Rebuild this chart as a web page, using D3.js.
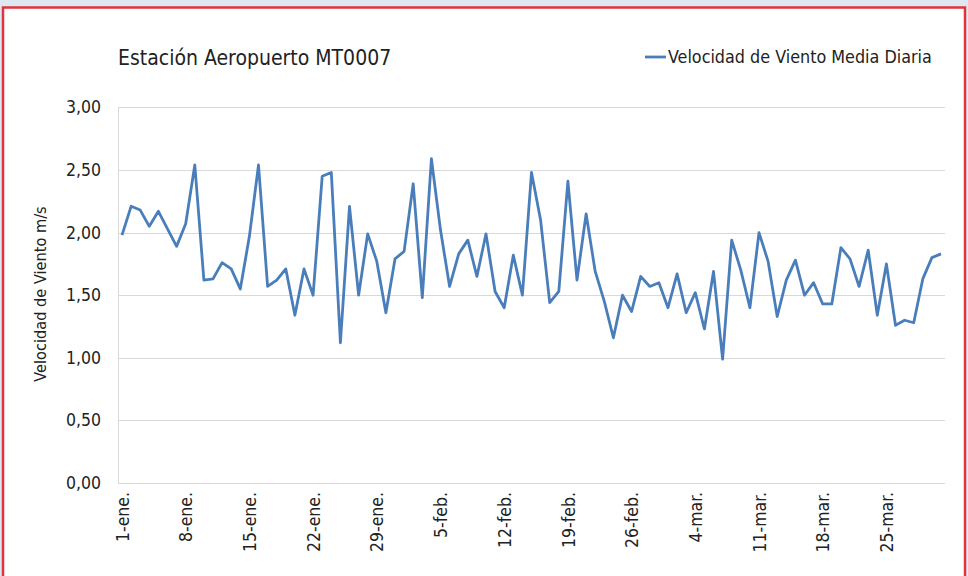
<!DOCTYPE html>
<meta charset="utf-8">
<style>
    body { margin: 0; background: #dfe7f1; }
    text { font-family: "Liberation Sans Narrow", "DejaVu Sans Condensed", "Open Sans", sans-serif; fill: #222; }
    .grid line { stroke: #d9d9d9; stroke-width: 1px; }
    .serie { fill: none; stroke: #4a7ebb; stroke-width: 2.8px; stroke-linejoin: round; }
</style>
<body>
<script src="https://d3js.org/d3.v7.min.js"></script>
<script>
    // dias desde el 1 de enero de 2012 (bisiesto) y velocidad media diaria m/s
    var startDate = new Date(2012, 0, 1);
    var velocidad = [
        1.98, 2.21, 2.18, 2.05, 2.17, 2.03, 1.89, 2.07, 2.54, 1.62,
        1.63, 1.76, 1.71, 1.55, 1.97, 2.54, 1.57, 1.62, 1.71, 1.34,
        1.71, 1.50, 2.45, 2.48, 1.12, 2.21, 1.50, 1.99, 1.77, 1.36,
        1.79, 1.85, 2.39, 1.48, 2.59, 2.02, 1.57, 1.83, 1.94, 1.65,
        1.99, 1.53, 1.40, 1.82, 1.50, 2.48, 2.10, 1.44, 1.53, 2.41,
        1.62, 2.15, 1.69, 1.45, 1.16, 1.50, 1.37, 1.65, 1.57, 1.60,
        1.40, 1.67, 1.36, 1.52, 1.23, 1.69, 0.99, 1.94, 1.70, 1.40,
        2.00, 1.77, 1.33, 1.62, 1.78, 1.50, 1.60, 1.43, 1.43, 1.88,
        1.79, 1.57, 1.86, 1.34, 1.75, 1.26, 1.30, 1.28, 1.63, 1.80,
        1.83
    ];
    var meses = ["ene.", "feb.", "mar."];
    var yTicks = [0, 0.5, 1, 1.5, 2, 2.5, 3];
    var tickStep = 7;
    var titulo = "Estación Aeropuerto MT0007";
    var nombreSerie = "Velocidad de Viento Media Diaria";
    var tituloEje = "Velocidad de Viento m/s";

    var data = velocidad.map(function(v, i) {
        return { date: d3.timeDay.offset(startDate, i), value: v };
    });

    var W = 968, H = 576;
    var svg = d3.select("body").append("svg").attr("width", W).attr("height", H);

    // marco
    svg.append("rect").attr("x", 3).attr("y", 7.5).attr("width", 962).attr("height", 580)
        .attr("fill", "#fff").attr("stroke", "#e0343d").attr("stroke-width", 2.5);

    var plot = { left: 118, right: 945, top: 107.4, bottom: 483 };

    var x = d3.scaleTime()
        .domain([startDate, d3.timeDay.offset(startDate, velocidad.length - 1)])
        .range([122, 941]);
    var y = d3.scaleLinear().domain([0, 3]).range([plot.bottom, plot.top]);

    // rejilla
    svg.append("g").attr("class", "grid")
        .selectAll("line").data(yTicks).join("line")
        .attr("x1", plot.left).attr("x2", plot.right)
        .attr("y1", d => Math.round(y(d)) + 0.5).attr("y2", d => Math.round(y(d)) + 0.5);
    svg.append("line").attr("x1", plot.left + 0.5).attr("x2", plot.left + 0.5)
        .attr("y1", plot.top).attr("y2", plot.bottom).attr("stroke", "#d9d9d9");

    // eje y
    var fmt = d3.format(".2f");
    svg.append("g").selectAll("text").data(yTicks).join("text")
        .attr("x", 101).attr("y", d => y(d) + 6)
        .attr("text-anchor", "end").style("font-size", "17.5px")
        .text(d => fmt(d).replace(".", ","));

    svg.append("text")
        .attr("transform", "translate(46,294) rotate(-90)")
        .attr("text-anchor", "middle").style("font-size", "16.2px")
        .text(tituloEje);

    // eje x
    var xTicks = d3.range(0, velocidad.length - 5, tickStep).map(d => d3.timeDay.offset(startDate, d));
    var xAxis = d3.axisBottom(x).tickValues(xTicks).tickSize(0)
        .tickFormat(d => d.getDate() + "-" + meses[d.getMonth()]);
    var gx = svg.append("g").attr("transform", "translate(0," + plot.bottom + ")").call(xAxis);
    gx.select(".domain").remove();
    gx.selectAll("text")
        .attr("transform", "rotate(-90)")
        .attr("x", -9).attr("y", 0).attr("dy", "0.35em")
        .attr("text-anchor", "end")
        .style("font-size", "17.5px").attr("fill", "#222");
    gx.attr("font-family", null).attr("font-size", null);

    // serie
    var line = d3.line().x(d => x(d.date)).y(d => y(d.value));
    svg.append("path").datum(data).attr("class", "serie").attr("d", line);

    // titulo y leyenda
    svg.append("text").attr("x", 118).attr("y", 65).style("font-size", "21px").text(titulo);
    svg.append("line").attr("x1", 645).attr("x2", 666).attr("y1", 57).attr("y2", 57)
        .attr("stroke", "#4a7ebb").attr("stroke-width", 2.8);
    svg.append("text").attr("x", 668).attr("y", 63).style("font-size", "17.8px").text(nombreSerie);
</script>
</body>
